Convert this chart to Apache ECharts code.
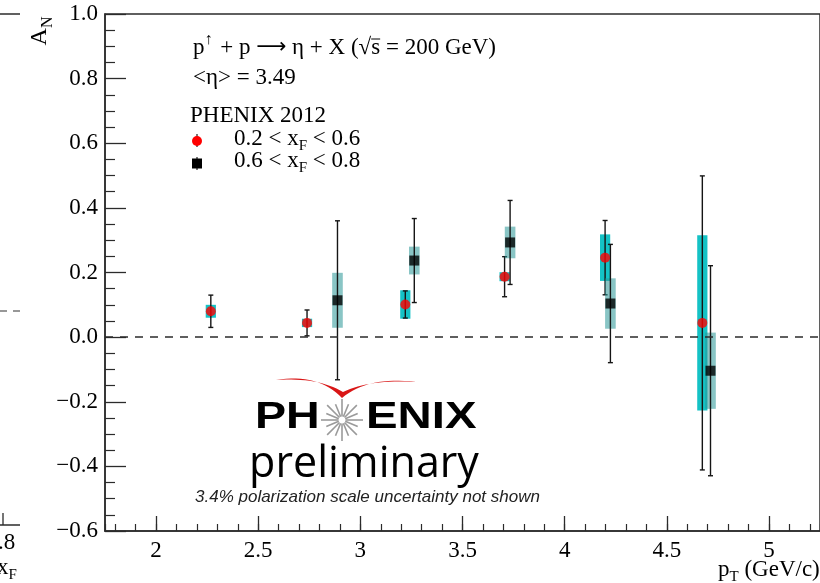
<!DOCTYPE html>
<html>
<head>
<meta charset="utf-8">
<script src="https://cdn.jsdelivr.net/npm/echarts@6/dist/echarts.min.js"></script>
<style>
  html, body { margin: 0; padding: 0; background: #fff; }
  #chart { width: 820px; height: 583px; }
</style>
</head>
<body>
<div id="chart"></div>
<script>
// Eta A_N vs pT, 0.2 < xF < 0.6
const ptLow   = [2.268, 2.739, 3.220, 3.706, 4.198, 4.674];
const anLow   = [0.080, 0.044, 0.101, 0.187, 0.246, 0.044];
const statLow = [0.050, 0.040, 0.042, 0.062, 0.115, 0.455];
const sysLow  = [0.020, 0.013, 0.044, 0.014, 0.072, 0.271];

// Eta A_N vs pT, 0.6 < xF < 0.8
const ptHigh   = [2.888, 3.264, 3.733, 4.224, 4.714];
const anHigh   = [0.114, 0.237, 0.293, 0.104, -0.104];
const statHigh = [0.246, 0.130, 0.130, 0.183, 0.325];
const sysHigh  = [0.085, 0.043, 0.049, 0.078, 0.118];

// axis ranges / tick settings
const xRange = [1.75, 5.25];
const yRange = [-0.6, 1.0];
const yStep = 0.2;

const SERIF = '"Liberation Serif", "DejaVu Serif", serif';
const SANS = '"Liberation Sans", Arial, sans-serif';
const AXIS_COLOR = '#2b2b2b';
const FS = 23;

const measureCtx = document.createElement('canvas').getContext('2d');
function textWidth(str, font) {
  measureCtx.font = font;
  return measureCtx.measureText(str).width;
}

function rows(xs, ys, st, sy) {
  return xs.map((x, i) => [x, ys[i], st[i], sy[i]]);
}

// systematic box + statistical error bar with small caps
function errorRenderer(boxColor, boxHalfWidth) {
  return function (params, api) {
    const x = api.value(0), y = api.value(1), st = api.value(2), sy = api.value(3);
    const c = api.coord([x, y]);
    const top = api.coord([x, y + st]);
    const bot = api.coord([x, y - st]);
    const b0 = api.coord([x - boxHalfWidth, y + sy]);
    const b1 = api.coord([x + boxHalfWidth, y - sy]);
    const cap = 2.5;
    const ls = { stroke: '#151515', lineWidth: 1.4 };
    return {
      type: 'group',
      children: [
        { type: 'rect', shape: { x: b0[0], y: b0[1], width: b1[0] - b0[0], height: b1[1] - b0[1] },
          style: { fill: boxColor } },
        { type: 'line', shape: { x1: c[0], y1: top[1], x2: c[0], y2: bot[1] }, style: ls },
        { type: 'line', shape: { x1: c[0] - cap, y1: top[1], x2: c[0] + cap, y2: top[1] }, style: ls },
        { type: 'line', shape: { x1: c[0] - cap, y1: bot[1], x2: c[0] + cap, y2: bot[1] }, style: ls }
      ]
    };
  };
}

const yFmt = v => (v < -1e-9 ? '\u2212' : '') + Math.abs(v).toFixed(1);

// spokes of the logo star
function starSpokes(cx, cy) {
  const out = [];
  const n = 16;
  for (let k = 0; k < n; k++) {
    const a = (k / n) * Math.PI * 2;
    const r0 = 3.5, r1 = (k % 2 === 0) ? 21 : 17;
    out.push({
      type: 'line',
      shape: { x1: cx + r0 * Math.cos(a), y1: cy + r0 * Math.sin(a), x2: cx + r1 * Math.cos(a), y2: cy + r1 * Math.sin(a) },
      style: { stroke: '#9a9a9a', lineWidth: 1.6 }
    });
  }
  return out;
}

// sample a quadratic bezier into points
function quad(p0, p1, p2, n) {
  const pts = [];
  for (let i = 0; i <= n; i++) {
    const t = i / n, u = 1 - t;
    pts.push([u * u * p0[0] + 2 * u * t * p1[0] + t * t * p2[0], u * u * p0[1] + 2 * u * t * p1[1] + t * t * p2[1]]);
  }
  return pts;
}
// red swoosh over the logo (outer edge then inner edge back)
const swoosh = [].concat(
  quad([276, 380], [318, 373], [342, 398], 16),
  quad([342, 398], [368, 376], [416, 382], 16).slice(1),
  quad([416, 382], [370, 379], [343, 392], 16).slice(1),
  quad([343, 392], [318, 377], [276, 380], 16).slice(1)
);

// reaction label pieces, with measured offset for the overline on "s"
const reacX = 193, reacY = 48;
const fA = FS + 'px ' + SERIF, fU = '16px ' + SERIF, fArrow = '21px "DejaVu Sans", sans-serif';
const preS = textWidth('p', fA) + textWidth('\u2191', fU) + 2 + textWidth(' + p ', fA) +
  textWidth('\u27f6', fArrow) + textWidth(' \u03b7 + X (\u221a', fA);
const sW = textWidth('s', fA);

const chart = echarts.init(document.getElementById('chart'), null, { renderer: 'canvas' });

const subRich = (size) => ({
  a: { fontFamily: SERIF, fontSize: size },
  s: { fontFamily: SERIF, fontSize: Math.round(size * 0.66), padding: [15, 0, 0, 0] }
});

const option = {
  animation: false,
  backgroundColor: '#fff',
  grid: {
    left: 105, top: 14, width: 719, height: 517,
    show: true, borderColor: AXIS_COLOR, borderWidth: 1.5, backgroundColor: 'transparent'
  },
  xAxis: [
    {
      type: 'value', min: xRange[0], max: xRange[1], splitNumber: 7, minInterval: 0.5, maxInterval: 0.5,
      position: 'bottom',
      axisLine: { show: true, onZero: false, lineStyle: { color: AXIS_COLOR, width: 1.5 } },
      axisTick: { show: true, inside: true, length: 15, lineStyle: { color: AXIS_COLOR, width: 1.3 } },
      minorTick: { show: false },
      splitLine: { show: false },
      axisLabel: {
        showMinLabel: false, showMaxLabel: false, margin: 8,
        fontFamily: SERIF, fontSize: FS, color: '#000',
        formatter: v => String(+v.toFixed(2))
      }
    },
    {
      // minor ticks every 0.1
      type: 'value', min: xRange[0], max: xRange[1], splitNumber: 35, minInterval: 0.1, maxInterval: 0.1,
      position: 'bottom', offset: 0,
      axisLine: { show: false, onZero: false },
      axisTick: { show: true, inside: true, length: 7, lineStyle: { color: AXIS_COLOR, width: 1.2 } },
      axisLabel: { show: false },
      splitLine: { show: false }
    }
  ],
  yAxis: {
    type: 'value', min: yRange[0], max: yRange[1], interval: yStep,
    axisLine: { show: true, onZero: false, lineStyle: { color: AXIS_COLOR, width: 1.5 } },
    axisTick: { show: true, inside: true, length: 21, lineStyle: { color: AXIS_COLOR, width: 1.3 } },
    minorTick: { show: true, splitNumber: 4, length: 10, lineStyle: { color: AXIS_COLOR, width: 1.2 } },
    splitLine: { show: false },
    axisLabel: { margin: 7, fontFamily: SERIF, fontSize: FS, color: '#000', formatter: yFmt }
  },
  series: [
    {
      type: 'custom', name: 'box-low', xAxisIndex: 0,
      renderItem: errorRenderer('#14c2c5', 0.025),
      data: rows(ptLow, anLow, statLow, sysLow),
      encode: { x: 0, y: 1 }, z: 2, silent: true
    },
    {
      type: 'custom', name: 'box-high', xAxisIndex: 0,
      renderItem: errorRenderer('rgba(40,150,150,0.55)', 0.026),
      data: rows(ptHigh, anHigh, statHigh, sysHigh),
      encode: { x: 0, y: 1 }, z: 2, silent: true
    },
    {
      type: 'scatter', name: '0.2 < xF < 0.6', xAxisIndex: 0,
      symbol: 'circle', symbolSize: 10,
      itemStyle: { color: '#ff0000' },
      data: ptLow.map((x, i) => [x, anLow[i]]), z: 5,
      markLine: {
        silent: true, symbol: 'none', label: { show: false },
        lineStyle: { color: '#2b2b2b', width: 1.5, type: [8, 7] },
        data: [{ yAxis: 0 }]
      }
    },
    {
      type: 'scatter', name: '0.6 < xF < 0.8', xAxisIndex: 0,
      symbol: 'rect', symbolSize: 10,
      itemStyle: { color: '#000' },
      data: ptHigh.map((x, i) => [x, anHigh[i]]), z: 5
    }
  ],
  graphic: [
    // neighbouring panel edge on the left
    { type: 'line', shape: { x1: 0, y1: 14, x2: 20, y2: 14 }, style: { stroke: AXIS_COLOR, lineWidth: 1.5 } },
    { type: 'line', shape: { x1: 0, y1: 311, x2: 21, y2: 311 }, style: { stroke: '#333', lineWidth: 1.2, lineDash: [7, 6] } },
    { type: 'line', shape: { x1: 3, y1: 513, x2: 3, y2: 525 }, style: { stroke: AXIS_COLOR, lineWidth: 1.3 } },
    { type: 'line', shape: { x1: 0, y1: 525, x2: 20, y2: 525 }, style: { stroke: AXIS_COLOR, lineWidth: 1.5 } },
    { type: 'text', x: -2, y: 543, style: { text: '.8', font: FS + 'px ' + SERIF, fill: '#000', verticalAlign: 'middle' } },
    { type: 'text', x: -3, y: 568, style: { text: '{a|x}{s|F}', fill: '#000', verticalAlign: 'middle', rich: subRich(FS) } },

    // axis titles
    { type: 'text', x: 40, y: 31, rotation: Math.PI / 2,
      style: { text: '{a|A}{s|N}', align: 'center', verticalAlign: 'middle', fill: '#000', rich: subRich(24) } },
    { type: 'text', x: 718, y: 570,
      style: { text: '{a|p}{s|T}{a| (GeV/c)}', verticalAlign: 'middle', fill: '#000', rich: subRich(FS) } },

    // reaction / kinematics text
    { type: 'text', x: reacX, y: reacY,
      style: { text: '{a|p}{u|\u2191}{a| + p }{r|\u27f6}{a| \u03b7 + X (\u221as = 200 GeV)}', verticalAlign: 'middle', fill: '#000',
        rich: {
          a: { fontFamily: SERIF, fontSize: FS },
          u: { fontFamily: SERIF, fontSize: 16, padding: [0, 2, 16, 0] },
          r: { fontFamily: '"DejaVu Sans", sans-serif', fontSize: 21 }
        } } },
    { type: 'line', shape: { x1: reacX + preS, y1: reacY - 9, x2: reacX + preS + sW, y2: reacY - 9 }, style: { stroke: '#000', lineWidth: 1 } },
    { type: 'text', x: 193, y: 78, style: { text: '<\u03b7> = 3.49', font: FS + 'px ' + SERIF, fill: '#000', verticalAlign: 'middle' } },
    { type: 'text', x: 190, y: 116, style: { text: 'PHENIX 2012', font: FS + 'px ' + SERIF, fill: '#000', verticalAlign: 'middle' } },

    // legend
    { type: 'line', shape: { x1: 197, y1: 134, x2: 197, y2: 147 }, style: { stroke: '#1e1e1e', lineWidth: 1.2 } },
    { type: 'circle', shape: { cx: 197, cy: 141, r: 5 }, style: { fill: '#ff0000' } },
    { type: 'text', x: 234, y: 139,
      style: { text: '{a|0.2 < x}{s|F}{a| < 0.6}', verticalAlign: 'middle', fill: '#000', rich: subRich(FS) } },
    { type: 'line', shape: { x1: 197, y1: 157, x2: 197, y2: 170 }, style: { stroke: '#1e1e1e', lineWidth: 1.2 } },
    { type: 'rect', shape: { x: 192, y: 158.5, width: 10, height: 10 }, style: { fill: '#000' } },
    { type: 'text', x: 234, y: 161,
      style: { text: '{a|0.6 < x}{s|F}{a| < 0.8}', verticalAlign: 'middle', fill: '#000', rich: subRich(FS) } },

    // PHENIX preliminary logo
    { type: 'polygon', shape: { points: swoosh }, style: { fill: '#d91616' } },
    { type: 'group', children: starSpokes(342, 420) },
    { type: 'text', x: 255, y: 418, scaleX: 1.26,
      style: { text: 'PH', font: 'bold 37px ' + SANS, fill: '#000', verticalAlign: 'middle' } },
    { type: 'text', x: 366, y: 418, scaleX: 1.28,
      style: { text: 'ENIX', font: 'bold 37px ' + SANS, fill: '#000', verticalAlign: 'middle' } },
    { type: 'text', x: 364, y: 465,
      style: { text: 'preliminary', font: '43px "Open Sans", "Noto Sans", sans-serif', fill: '#000', align: 'center', verticalAlign: 'middle' } },
    { type: 'text', x: 195, y: 497,
      style: { text: '3.4% polarization scale uncertainty not shown', font: 'italic 17px ' + SANS, fill: '#222', verticalAlign: 'middle' } }
  ]
};

chart.setOption(option);
</script>
</body>
</html>
